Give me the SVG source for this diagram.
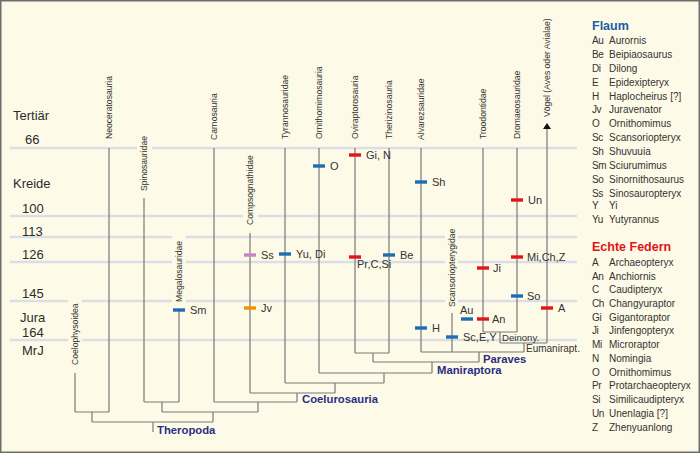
<svg xmlns="http://www.w3.org/2000/svg" width="700" height="454" viewBox="0 0 700 454">
<style>
.bg{fill:#fdfbe7}
.frame{fill:none;stroke:#6e6e6e;stroke-width:1.5}
.time{stroke:#dcdde6;stroke-width:2.5;fill:none}
.ln{stroke:#7a7a7a;stroke-width:1.2;fill:none}
.era{font-family:"Liberation Sans",Arial,sans-serif;font-size:13px;fill:#2b2b2b}
.vl{font-family:"Liberation Sans",Arial,sans-serif;font-size:8.6px;fill:#333}
.ml{font-family:"Liberation Sans",Arial,sans-serif;font-size:11px;fill:#333}
.sm{font-family:"Liberation Sans",Arial,sans-serif;font-size:10px;fill:#333}
.clade{font-family:"Liberation Sans",Arial,sans-serif;font-size:11.3px;font-weight:bold;fill:#2b2e86}
.lg{font-family:"Liberation Sans",Arial,sans-serif;font-size:10px;fill:#333}
.ab{letter-spacing:-0.4px}
.lh{font-family:"Liberation Sans",Arial,sans-serif;font-size:12.5px;font-weight:bold}
.b{fill:#1d6db5}.r{fill:#e3131b}.p{fill:#c586c0}.o{fill:#f39200}
</style>
<defs>
<marker id="arr" viewBox="0 0 6 8" refX="0" refY="4" markerWidth="6" markerHeight="8" markerUnits="userSpaceOnUse" orient="auto"><path d="M0,0 L6,4 L0,8 Z" fill="#111"/></marker>
</defs>
<rect class="bg" x="0" y="0" width="700" height="454"/>
<rect class="frame" x="0.75" y="0.75" width="698.5" height="451.5"/>

<g id="timescale">
<path class="time" d="M10,148H137M152,148H577"/>
<path class="time" d="M10,216H243M258,216H577"/>
<path class="time" d="M10,237H172M186,237H445M458,237H577"/>
<path class="time" d="M10,262H172M186,262H445M458,262H577"/>
<path class="time" d="M10,301H68M82,301H172M186,301H445M458,301H577"/>
<path class="time" d="M10,340H68M82,340H577"/>
<text class="era" x="13" y="120">Tertiär</text>
<text class="era" x="25" y="144">66</text>
<text class="era" x="13" y="188">Kreide</text>
<text class="era" x="22" y="213">100</text>
<text class="era" x="22" y="236">113</text>
<text class="era" x="22" y="259">126</text>
<text class="era" x="22" y="298">145</text>
<text class="era" x="20" y="322">Jura</text>
<text class="era" x="22" y="337">164</text>
<text class="era" x="22" y="355">MrJ</text>
</g>

<g id="connectors">
<path class="ln" d="M75,412H109M92,412V422"/>
<path class="ln" d="M144,402H179M162,402V412"/>
<path class="ln" d="M92,422H213M213,412V422M153,422V432"/>
<path class="ln" d="M162,412H258M258,402V412"/>
<path class="ln" d="M214,402H297M297,393V402"/>
<path class="ln" d="M250,393H335M335,383V393"/>
<path class="ln" d="M285,383H384M384,373V383"/>
<path class="ln" d="M319,373H432M432,362V373"/>
<path class="ln" d="M355,353H389M373,353V362"/>
<path class="ln" d="M373,362H479M479,352V362"/>
<path class="ln" d="M421,352H524M524,343V352"/>
<path class="ln" d="M483,332H517M500,332V343"/>
<path class="ln" d="M500,343H547"/>
</g>

<g id="Coelophysoidea"><path class="ln" d="M75,373V412"/><text class="vl" transform="translate(78.2,365) rotate(-90)">Coelophysoidea</text></g>
<g id="Neoceratosauria"><path class="ln" d="M109,148V412"/><text class="vl" transform="translate(112.2,139) rotate(-90)">Neoceratosauria</text></g>
<g id="Spinosauridae"><path class="ln" d="M144,198V402"/><text class="vl" transform="translate(147.2,191) rotate(-90)">Spinosauridae</text></g>
<g id="Megalosauridae"><path class="ln" d="M179,310V402"/><text class="vl" transform="translate(182.2,302) rotate(-90)">Megalosauridae</text></g>
<g id="Carnosauria"><path class="ln" d="M214,148V402"/><text class="vl" transform="translate(217.2,140) rotate(-90)">Carnosauria</text></g>
<g id="Compsognathidae"><path class="ln" d="M250,233V393"/><text class="vl" transform="translate(253.2,225) rotate(-90)">Compsognathidae</text></g>
<g id="Tyrannosauridae"><path class="ln" d="M285,148V383"/><text class="vl" transform="translate(288.2,139) rotate(-90)">Tyrannosauridae</text></g>
<g id="Ornithomimosauria"><path class="ln" d="M319,148V373"/><text class="vl" transform="translate(322.2,139) rotate(-90)">Ornithomimosauria</text></g>
<g id="Oviraptorosauria"><path class="ln" d="M355,148V353"/><text class="vl" transform="translate(358.2,139) rotate(-90)">Oviraptorosauria</text></g>
<g id="Therizinosauria"><path class="ln" d="M389,148V353"/><text class="vl" transform="translate(392.2,139) rotate(-90)">Therizinosauria</text></g>
<g id="Alvarezsauridae"><path class="ln" d="M421,148V352"/><text class="vl" transform="translate(424.2,140) rotate(-90)">Alvarezsauridae</text></g>
<g id="Scansoriopterygidae"><path class="ln" d="M452,313V352"/><text class="vl" transform="translate(455.2,307) rotate(-90)">Scansoriopterygidae</text></g>
<g id="Troodontidae"><path class="ln" d="M483,148V332"/><text class="vl" transform="translate(486.2,139) rotate(-90)">Troodontidae</text></g>
<g id="Dromaeosauridae"><path class="ln" d="M517,148V332"/><text class="vl" transform="translate(520.2,139) rotate(-90)">Dromaeosauridae</text></g>
<g id="Voegel"><path class="ln" d="M547,343V129" marker-end="url(#arr)"/><text class="vl" transform="translate(550.2,117) rotate(-90)">Vögel (Aves oder Avialae)</text></g>

<g id="clades">
<text class="clade" x="157" y="434">Theropoda</text>
<text class="clade" x="302" y="403">Coelurosauria</text>
<text class="clade" x="437" y="374">Maniraptora</text>
<text class="clade" x="483" y="363">Paraves</text>
<text class="sm" x="502" y="341" style="font-size:9.6px">Deinony.</text>
<text class="sm" x="526" y="352">Eumanirapt.</text>
</g>

<g id="markers">
<rect class="b" x="173" y="308.3" width="12" height="3.4"/><text class="ml" x="190" y="314">Sm</text>
<rect class="b" x="313" y="164.3" width="12" height="3.4"/><text class="ml" x="330" y="170">O</text>
<rect class="r" x="349" y="153.3" width="12" height="3.4"/><text class="ml" x="366" y="159">Gi, N</text>
<rect class="b" x="415" y="180.3" width="12" height="3.4"/><text class="ml" x="432" y="186">Sh</text>
<rect class="r" x="511" y="198.3" width="12" height="3.4"/><text class="ml" x="528" y="204">Un</text>
<rect class="p" x="244" y="253.3" width="12" height="3.4"/><text class="ml" x="261" y="259">Ss</text>
<rect class="b" x="279" y="252.3" width="12" height="3.4"/><text class="ml" x="296" y="258">Yu, Di</text>
<rect class="r" x="349" y="255.3" width="12" height="3.4"/><text class="ml" x="357" y="268">Pr,C,Si</text>
<rect class="b" x="383" y="253.3" width="12" height="3.4"/><text class="ml" x="400" y="259">Be</text>
<rect class="o" x="244" y="306.3" width="12" height="3.4"/><text class="ml" x="261" y="312">Jv</text>
<rect class="b" x="415" y="326.3" width="12" height="3.4"/><text class="ml" x="432" y="332">H</text>
<rect class="b" x="446" y="335.3" width="12" height="3.4"/><text class="ml" x="463" y="341">Sc,E,Y</text>
<rect class="b" x="461" y="317.3" width="12" height="3.4"/><text class="ml" x="460" y="314">Au</text>
<rect class="r" x="477" y="317.3" width="12" height="3.4"/><text class="ml" x="492" y="323">An</text>
<rect class="r" x="477" y="266.3" width="12" height="3.4"/><text class="ml" x="493" y="272">Ji</text>
<rect class="r" x="511" y="255.3" width="12" height="3.4"/><text class="ml" x="527" y="261">Mi,Ch,Z</text>
<rect class="b" x="511" y="294.3" width="12" height="3.4"/><text class="ml" x="527" y="300">So</text>
<rect class="r" x="541" y="306.3" width="12" height="3.4"/><text class="ml" x="558" y="312">A</text>
</g>

<g id="legend-flaum">
<text class="lh" x="592" y="30" fill="#1a5ea6">Flaum</text>
<text class="lg ab" x="592" y="44">Au</text><text class="lg" x="609" y="44">Aurornis</text>
<text class="lg ab" x="592" y="58">Be</text><text class="lg" x="609" y="58">Beipiaosaurus</text>
<text class="lg ab" x="592" y="72">Di</text><text class="lg" x="609" y="72">Dilong</text>
<text class="lg ab" x="592" y="86">E</text><text class="lg" x="609" y="86">Epidexipteryx</text>
<text class="lg ab" x="592" y="100">H</text><text class="lg" x="609" y="100">Haplocheirus [?]</text>
<text class="lg ab" x="592" y="113">Jv</text><text class="lg" x="609" y="113">Juravenator</text>
<text class="lg ab" x="592" y="127">O</text><text class="lg" x="609" y="127">Ornithomimus</text>
<text class="lg ab" x="592" y="141">Sc</text><text class="lg" x="609" y="141">Scansoriopteryx</text>
<text class="lg ab" x="592" y="155">Sh</text><text class="lg" x="609" y="155">Shuvuuia</text>
<text class="lg ab" x="592" y="169">Sm</text><text class="lg" x="609" y="169">Sciurumimus</text>
<text class="lg ab" x="592" y="183">So</text><text class="lg" x="609" y="183">Sinornithosaurus</text>
<text class="lg ab" x="592" y="197">Ss</text><text class="lg" x="609" y="197">Sinosauropteryx</text>
<text class="lg ab" x="592" y="209">Y</text><text class="lg" x="609" y="209">Yi</text>
<text class="lg ab" x="592" y="223">Yu</text><text class="lg" x="609" y="223">Yutyrannus</text>
</g>

<g id="legend-federn">
<text class="lh" x="592" y="251" fill="#e3131b">Echte Federn</text>
<text class="lg ab" x="592" y="266">A</text><text class="lg" x="609" y="266">Archaeopteryx</text>
<text class="lg ab" x="592" y="280">An</text><text class="lg" x="609" y="280">Anchiornis</text>
<text class="lg ab" x="592" y="293">C</text><text class="lg" x="609" y="293">Caudipteryx</text>
<text class="lg ab" x="592" y="307">Ch</text><text class="lg" x="609" y="307">Changyuraptor</text>
<text class="lg ab" x="592" y="321">Gi</text><text class="lg" x="609" y="321">Gigantoraptor</text>
<text class="lg ab" x="592" y="334">Ji</text><text class="lg" x="609" y="334">Jinfengopteryx</text>
<text class="lg ab" x="592" y="348">Mi</text><text class="lg" x="609" y="348">Microraptor</text>
<text class="lg ab" x="592" y="362">N</text><text class="lg" x="609" y="362">Nomingia</text>
<text class="lg ab" x="592" y="376">O</text><text class="lg" x="609" y="376">Ornithomimus</text>
<text class="lg ab" x="592" y="389">Pr</text><text class="lg" x="609" y="389">Protarchaeopteryx</text>
<text class="lg ab" x="592" y="403">Si</text><text class="lg" x="609" y="403">Similicaudipteryx</text>
<text class="lg ab" x="592" y="417">Un</text><text class="lg" x="609" y="417">Unenlagia [?]</text>
<text class="lg ab" x="592" y="431">Z</text><text class="lg" x="609" y="431">Zhenyuanlong</text>
</g>
</svg>
